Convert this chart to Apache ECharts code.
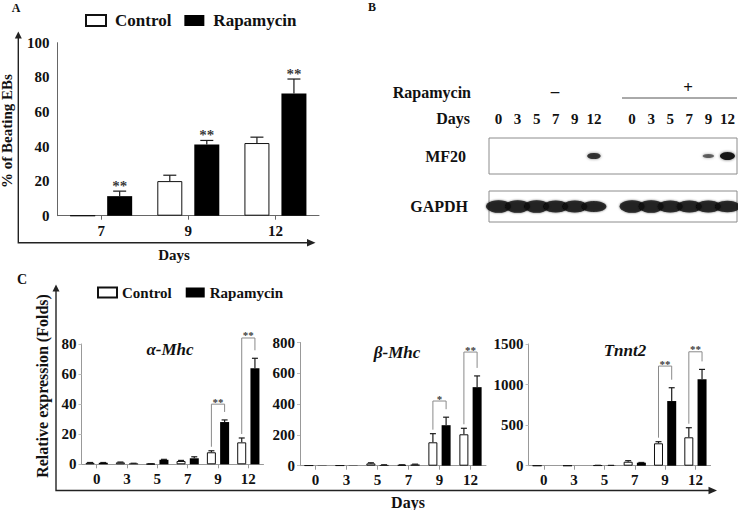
<!DOCTYPE html>
<html><head><meta charset="utf-8">
<script src="https://cdn.jsdelivr.net/npm/echarts/dist/echarts.min.js"></script>
<style>html,body{margin:0;padding:0;background:#fff}#c{width:738px;height:510px}</style>
</head><body><div id="c"></div>
<script>
// ---------- Panel A data ----------
var aDays = ['7', '9', '12'];
var aControl = [0, 20.0, 42.0];
var aControlErr = [0, 3.4, 3.4];
var aRapamycin = [11.3, 41.2, 70.7];
var aRapamycinErr = [2.9, 2.3, 8.3];
var aSig = ['**', '**', '**'];
var aTicks = [0, 20, 40, 60, 80, 100];

// ---------- Panel B data (western blot) ----------
var bLanes = ['0', '3', '5', '7', '9', '12', '', '0', '3', '5', '7', '9', '12'];
var mf20Signal = [0, 0, 0, 0, 0, 0.7, null, 0, 0, 0, 0, 0.3, 1.0];
var gapdhSignal = [1, 1, 1, 0.95, 0.9, 0.8, null, 1, 1, 0.95, 0.95, 0.9, 0.85];

// ---------- Panel C data ----------
var cDays = ['0', '3', '5', '7', '9', '12'];
var alphaControl = [1.0, 1.3, 0.3, 2.2, 8.0, 14.6];
var alphaControlErr = [0.2, 0.2, 0.1, 0.4, 1.0, 2.9];
var alphaRapamycin = [1.0, 0.6, 3.0, 4.0, 28.1, 63.8];
var alphaRapamycinErr = [0.2, 0.1, 0.3, 1.0, 1.4, 6.7];
var alphaSigTop = [null, null, null, null, 40, 84];
var alphaSig = ['', '', '', '', '**', '**'];
var alphaTicks = [0, 20, 40, 60, 80];

var betaControl = [2, 2, 15, 5, 152, 204];
var betaControlErr = [0, 0, 4, 1, 56, 39];
var betaRapamycin = [2, 2, 5, 8, 263, 510];
var betaRapamycinErr = [0, 0, 1, 2, 52, 73];
var betaSigTop = [null, null, null, null, 420, 738];
var betaSig = ['', '', '', '', '*', '**'];
var betaTicks = [0, 200, 400, 600, 800];

var tnntControl = [0, 0, 4, 49, 276, 350];
var tnntControlErr = [0, 0, 1, 13, 20, 118];
var tnntRapamycin = [0, 0, 3, 37, 797, 1064];
var tnntRapamycinErr = [0, 0, 1, 3, 164, 123];
var tnntSigTop = [null, null, null, null, 1228, 1404];
var tnntSig = ['', '', '', '', '**', '**'];
var tnntTicks = [0, 500, 1000, 1500];

// ---------- helpers ----------
var FONT = 'Liberation Serif, serif';
function ts(size, extra) {
  return Object.assign({fontFamily: FONT, fontWeight: 'bold', fontSize: size, color: '#111'}, extra || {});
}
function plain(v) { return String(v); }
function errorBars(offset, cap) {
  return function (params, api) {
    var i = api.value(0), v = api.value(1), e = api.value(2);
    var b = api.coord([i, v]), t = api.coord([i, v + e]);
    var x = b[0] + offset;
    var st = {stroke: '#1a1a1a', lineWidth: 1.2, fill: 'none'};
    return {type: 'group', children: [
      {type: 'line', shape: {x1: x, y1: b[1], x2: x, y2: t[1]}, style: st},
      {type: 'line', shape: {x1: x - cap / 2, y1: t[1], x2: x + cap / 2, y2: t[1]}, style: st}
    ]};
  };
}
function errData(vals, errs) {
  return vals.map(function (v, i) { return [i, v, errs[i]]; }).filter(function (d) { return d[2] > 0; });
}
function brackets(off) {
  return function (params, api) {
    var i = api.value(0);
    var top = api.coord([i, api.value(1)]);
    var lc = api.coord([i, api.value(2)]), rc = api.coord([i, api.value(3)]);
    var xl = top[0] - off, xr = top[0] + off;
    return {type: 'polyline', shape: {points: [[xl, lc[1] - 4], [xl, top[1]], [xr, top[1]], [xr, rc[1] - 8]]},
      style: {stroke: '#8a8a8a', lineWidth: 1, fill: 'none'}};
  };
}
function starSeries(xi, yi, data, size, offset) {
  return {type: 'scatter', xAxisIndex: xi, yAxisIndex: yi, silent: true, symbol: 'circle', symbolSize: 0.01, z: 5,
    itemStyle: {color: 'transparent'}, data: data,
    label: {show: true, position: 'inside', offset: offset, color: '#000', fontFamily: FONT, fontWeight: 'bold',
      fontSize: size, formatter: function (p) { return p.data[2]; }}};
}

var grids = [
  {left: 57.6, top: 42.7, width: 261.4, height: 173},
  {left: 489, top: 138, width: 248, height: 36, show: true, borderColor: '#8c8c8c', borderWidth: 1, backgroundColor: 'transparent'},
  {left: 489, top: 191, width: 248, height: 31, show: true, borderColor: '#8c8c8c', borderWidth: 1, backgroundColor: 'transparent'},
  {left: 81.5, top: 344, width: 182, height: 120.3},
  {left: 300, top: 342.5, width: 186, height: 123.2},
  {left: 528.6, top: 344, width: 182, height: 121.7}
];
grids.forEach(function (g) { g.containLabel = false; g.outerBoundsMode = 'none'; });

var xAxes = [], yAxes = [], series = [];

// Panel A axes
xAxes.push({gridIndex: 0, type: 'category', data: aDays, boundaryGap: true,
  axisLine: {lineStyle: {color: '#666', width: 1}},
  axisTick: {show: true, alignWithLabel: true, length: 4, lineStyle: {color: '#666'}},
  axisLabel: ts(15, {margin: 8})});
yAxes.push({gridIndex: 0, type: 'value', min: aTicks[0], max: aTicks[aTicks.length - 1], interval: aTicks[1] - aTicks[0],
  axisLine: {show: true, lineStyle: {color: '#666', width: 1}}, axisTick: {show: false}, splitLine: {show: false},
  axisLabel: ts(15, {margin: 8, formatter: plain})});

// Panel B axes
xAxes.push({gridIndex: 1, type: 'category', data: bLanes, position: 'top', boundaryGap: true,
  axisLine: {show: false}, axisTick: {show: false}, axisLabel: ts(15, {margin: 12, interval: 0})});
yAxes.push({gridIndex: 1, type: 'category', data: ['MF20'], axisLine: {show: false}, axisTick: {show: false},
  axisLabel: ts(16, {margin: 23})});
xAxes.push({gridIndex: 2, type: 'category', data: bLanes, boundaryGap: true,
  axisLine: {show: false}, axisTick: {show: false}, axisLabel: {show: false}});
yAxes.push({gridIndex: 2, type: 'category', data: ['GAPDH'], axisLine: {show: false}, axisTick: {show: false},
  axisLabel: ts(16, {margin: 21})});

// Panel A series
series.push({type: 'bar', name: 'Control', xAxisIndex: 0, yAxisIndex: 0, data: aControl, barWidth: 25, barGap: '48%',
  itemStyle: {color: '#fff', borderColor: '#111', borderWidth: 1}, silent: true});
series.push({type: 'bar', name: 'Rapamycin', xAxisIndex: 0, yAxisIndex: 0, data: aRapamycin, barWidth: 25, barGap: '48%',
  itemStyle: {color: '#000'}, silent: true});
series.push({type: 'custom', name: 'errA1', xAxisIndex: 0, yAxisIndex: 0, renderItem: errorBars(-18.5, 13),
  data: errData(aControl, aControlErr), z: 3, silent: true});
series.push({type: 'custom', name: 'errA2', xAxisIndex: 0, yAxisIndex: 0, renderItem: errorBars(18.5, 13),
  data: errData(aRapamycin, aRapamycinErr), z: 3, silent: true});
series.push(starSeries(0, 0, aRapamycin.map(function (v, i) { return [i, v + aRapamycinErr[i], aSig[i]]; }), 15, [18.5, -5]));

// Panel B series (blot bands)
series.push({type: 'scatter', name: 'MF20', xAxisIndex: 1, yAxisIndex: 1, silent: true, symbol: 'circle',
  data: mf20Signal.map(function (s, i) { return s ? {value: [i, 0, s], itemStyle: {opacity: 0.4 + 0.6 * s}} : null; })
    .filter(function (d) { return d; }),
  symbolSize: function (d) { return [10 + 5 * d[2], 2 + 6 * d[2]]; },
  itemStyle: {color: '#151515', shadowBlur: 3, shadowColor: 'rgba(0,0,0,0.6)'}});
series.push({type: 'scatter', name: 'GAPDH', xAxisIndex: 2, yAxisIndex: 2, silent: true, symbol: 'circle',
  data: gapdhSignal.map(function (s, i) { return s ? {value: [i, 0, s]} : null; }).filter(function (d) { return d; }),
  symbolSize: function (d) { return [25, 6 + 6.5 * d[2]]; },
  itemStyle: {color: '#0a0a0a', shadowBlur: 2, shadowColor: 'rgba(0,0,0,0.7)'}});

// Panel C
function addGene(gi, ticks, ctrl, ctrlErr, rapa, rapaErr, sigTop, sig) {
  var xi = xAxes.length, yi = yAxes.length;
  xAxes.push({gridIndex: gi, type: 'category', data: cDays, boundaryGap: true,
    axisLine: {lineStyle: {color: '#999', width: 1}},
    axisTick: {show: true, alignWithLabel: true, length: 4, lineStyle: {color: '#999'}},
    axisLabel: ts(15, {margin: 7})});
  yAxes.push({gridIndex: gi, type: 'value', min: ticks[0], max: ticks[ticks.length - 1], interval: ticks[1] - ticks[0],
    axisLine: {show: true, lineStyle: {color: '#999', width: 1}},
    axisTick: {show: true, length: 3, lineStyle: {color: '#bbb'}}, splitLine: {show: false},
    axisLabel: ts(15, {margin: 5, formatter: plain})});
  series.push({type: 'bar', name: 'Control', xAxisIndex: xi, yAxisIndex: yi, data: ctrl, barWidth: 9, barGap: '47%',
    itemStyle: {color: '#fff', borderColor: '#111', borderWidth: 1}, silent: true});
  series.push({type: 'bar', name: 'Rapamycin', xAxisIndex: xi, yAxisIndex: yi, data: rapa, barWidth: 9, barGap: '47%',
    itemStyle: {color: '#000'}, silent: true});
  series.push({type: 'custom', xAxisIndex: xi, yAxisIndex: yi, renderItem: errorBars(-6.6, 6), data: errData(ctrl, ctrlErr),
    z: 3, silent: true});
  series.push({type: 'custom', xAxisIndex: xi, yAxisIndex: yi, renderItem: errorBars(6.6, 6), data: errData(rapa, rapaErr),
    z: 3, silent: true});
  var bd = [], sd = [];
  sigTop.forEach(function (t, i) {
    if (t == null) return;
    bd.push([i, t, ctrl[i] + ctrlErr[i], rapa[i] + rapaErr[i]]);
    sd.push([i, t, sig[i]]);
  });
  series.push({type: 'custom', xAxisIndex: xi, yAxisIndex: yi, renderItem: brackets(6.6), z: 4, silent: true, clip: false, data: bd});
  var s = starSeries(xi, yi, sd, 11, [0, -2.5]);
  s.clip = false;
  series.push(s);
}
addGene(3, alphaTicks, alphaControl, alphaControlErr, alphaRapamycin, alphaRapamycinErr, alphaSigTop, alphaSig);
addGene(4, betaTicks, betaControl, betaControlErr, betaRapamycin, betaRapamycinErr, betaSigTop, betaSig);
addGene(5, tnntTicks, tnntControl, tnntControlErr, tnntRapamycin, tnntRapamycinErr, tnntSigTop, tnntSig);

function gtext(x, y, text, size, opts) {
  opts = opts || {};
  return {type: 'text', x: x, y: y, rotation: opts.rotation || 0, silent: true,
    style: {text: text, font: (opts.italic ? 'italic ' : '') + 'bold ' + size + 'px ' + FONT, fill: '#111',
      textAlign: opts.align || 'center', textVerticalAlign: 'middle'}};
}
var AX = '#222';
var graphics = [
  gtext(16, 8, 'A', 12), gtext(372, 7, 'B', 12), gtext(22, 279, 'C', 14),
  // Panel A outer axes
  {type: 'polyline', silent: true, shape: {points: [[18.3, 37], [18.3, 242.7], [310, 242.7]]}, style: {stroke: AX, lineWidth: 1.4, fill: 'none'}},
  {type: 'polygon', silent: true, shape: {points: [[18.3, 31.5], [14.8, 38.5], [21.8, 38.5]]}, style: {fill: AX}},
  {type: 'polygon', silent: true, shape: {points: [[315.5, 242.7], [307, 239], [307, 246.4]]}, style: {fill: AX}},
  gtext(7, 131, '% of Beating EBs', 15, {rotation: Math.PI / 2}),
  gtext(174, 255, 'Days', 15),
  // Panel B texts
  gtext(471, 92, 'Rapamycin', 16, {align: 'right'}),
  gtext(555, 91, '\u2013', 17),
  gtext(688, 87, '+', 17),
  {type: 'line', silent: true, shape: {x1: 622, y1: 98, x2: 737, y2: 98}, style: {stroke: '#555', lineWidth: 1}},
  gtext(470, 118, 'Days', 16, {align: 'right'}),
  // Panel C
  {type: 'polyline', silent: true, shape: {points: [[56, 290], [56, 490.5], [711, 490.5]]}, style: {stroke: AX, lineWidth: 1.4, fill: 'none'}},
  {type: 'polygon', silent: true, shape: {points: [[56, 284.5], [52.5, 291.5], [59.5, 291.5]]}, style: {fill: AX}},
  {type: 'polygon', silent: true, shape: {points: [[717, 490.5], [708.5, 486.8], [708.5, 494.2]]}, style: {fill: AX}},
  gtext(42, 386, 'Relative expression (Folds)', 16, {rotation: Math.PI / 2}),
  gtext(408, 502, 'Days', 16),
  gtext(170, 349, '\u03b1-Mhc', 17, {italic: true}),
  gtext(397, 352, '\u03b2-Mhc', 17, {italic: true}),
  gtext(625, 350, 'Tnnt2', 17, {italic: true})
];

var chart = echarts.init(document.getElementById('c'), null, {renderer: 'svg'});
chart.setOption({
  animation: false,
  backgroundColor: '#fff',
  textStyle: {fontFamily: FONT},
  grid: grids,
  xAxis: xAxes,
  yAxis: yAxes,
  legend: [
    {data: ['Control', 'Rapamycin'], left: 85, top: 12, padding: 0, itemWidth: 20, itemHeight: 11, itemGap: 13, icon: 'rect',
      selectedMode: false, textStyle: ts(17, {padding: [0, 0, 0, 4]})},
    {data: ['Control', 'Rapamycin'], left: 97, top: 285, padding: 0, itemWidth: 19, itemHeight: 10, itemGap: 14, icon: 'rect',
      selectedMode: false, textStyle: ts(15)}
  ],
  series: series,
  graphic: graphics
});
</script>
</body></html>
